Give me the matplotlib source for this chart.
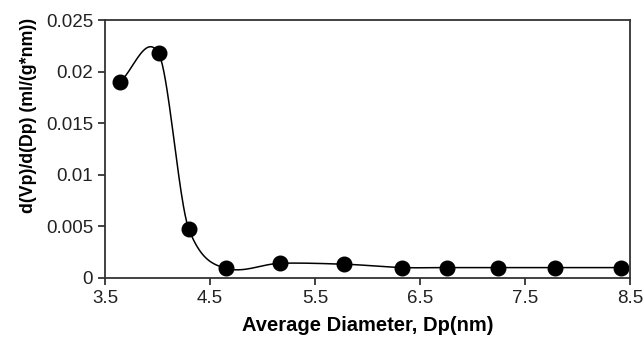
import numpy as np
import matplotlib
matplotlib.use("Agg")
import matplotlib.pyplot as plt

plt.rcParams["font.family"] = ["Liberation Sans", "DejaVu Sans"]

# data
diameter = [3.64, 4.01, 4.30, 4.65, 5.17, 5.78, 6.33, 6.76, 7.24, 7.79, 8.42]
dvdd = [0.0190, 0.0218, 0.0047, 0.00094, 0.00142, 0.00133, 0.0010, 0.0010, 0.0010, 0.0010, 0.0010]
xticks = [3.5, 4.5, 5.5, 6.5, 7.5, 8.5]
yticks = [0, 0.005, 0.01, 0.015, 0.02, 0.025]
ytick_labels = ["0", "0.005", "0.01", "0.015", "0.02", "0.025"]


def smooth_curve(x, y, npts=40, k=0.8):
    # Catmull-Rom style hermite curve through the points (like a spreadsheet "smoothed line")
    x = np.asarray(x, float)
    y = np.asarray(y, float)
    n = len(x)
    m = np.zeros(n)
    m[0] = (y[1] - y[0]) / (x[1] - x[0])
    m[-1] = (y[-1] - y[-2]) / (x[-1] - x[-2])
    m[1:-1] = k * (y[2:] - y[:-2]) / (x[2:] - x[:-2])
    xs, ys = [], []
    for i in range(n - 1):
        h = x[i + 1] - x[i]
        t = np.linspace(0, 1, npts)
        h00 = 2 * t ** 3 - 3 * t ** 2 + 1
        h10 = t ** 3 - 2 * t ** 2 + t
        h01 = -2 * t ** 3 + 3 * t ** 2
        h11 = t ** 3 - t ** 2
        xs.append(x[i] + h * t)
        ys.append(h00 * y[i] + h10 * h * m[i] + h01 * y[i + 1] + h11 * h * m[i + 1])
    return np.concatenate(xs), np.concatenate(ys)


xs, ys = smooth_curve(diameter, dvdd)

fig = plt.figure(figsize=(6.44, 3.41), dpi=100)
ax = fig.add_axes([0.163, 0.185, 0.815, 0.756])

ax.plot(xs, ys, color="black", lw=1.1)
ax.plot(diameter, dvdd, "o", color="black", ms=10.5)

ax.set_xlim(3.5, 8.5)
ax.set_ylim(0, 0.025)
ax.set_xticks(xticks)
ax.set_xticklabels([str(t) for t in xticks])
ax.set_yticks(yticks)
ax.set_yticklabels(ytick_labels)
ax.tick_params(direction="out", length=5, width=1.2, labelsize=13.5, colors="#222222")
for s in ax.spines.values():
    s.set_linewidth(1.3)
    s.set_color("#333333")

ax.set_xlabel("Average Diameter, Dp(nm)", fontsize=14.5, fontweight="bold", labelpad=7)
ax.set_ylabel("d(Vp)/d(Dp) (ml/(g*nm))", fontsize=12.8, fontweight="bold")
ax.yaxis.set_label_coords(-0.13, 0.632)

fig.savefig("out.png", dpi=100)
